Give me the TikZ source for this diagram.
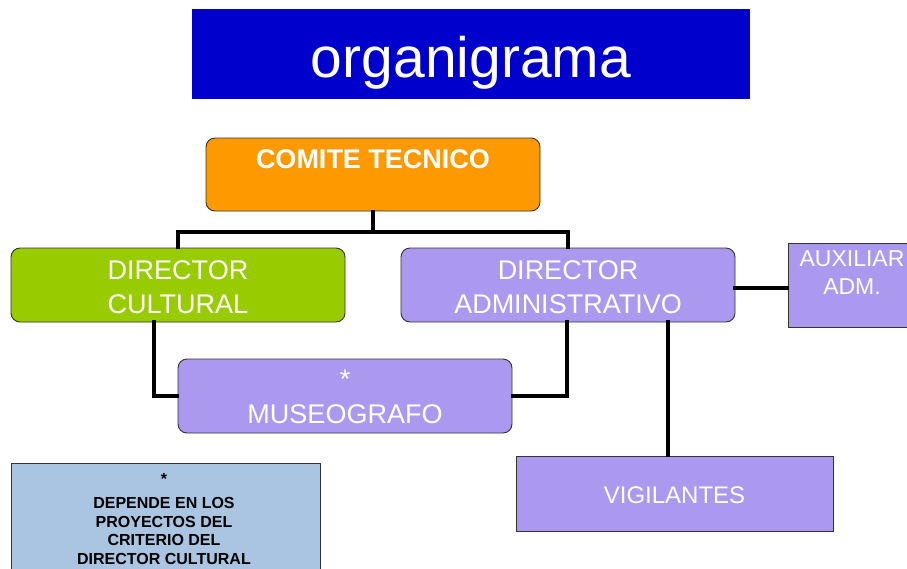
\documentclass[tikz,border=0pt]{standalone}
\usepackage{fontspec}
\setmainfont{Liberation Sans}
\definecolor{titleblue}{HTML}{0000CC}
\definecolor{orgorange}{HTML}{FF9900}
\definecolor{orggreen}{HTML}{99CC00}
\definecolor{orgpurple}{HTML}{AA99EE}
\definecolor{notebl}{HTML}{A9C5E1}
\tikzset{
  orgbox/.style={draw=black!80, line width=0.9pt, inner sep=0pt},
  rbox/.style={orgbox, rounded corners=9pt},
  conn/.style={draw=black, line width=3.4pt, line cap=rect},
  wtxt/.style={text=white, inner sep=0pt, anchor=base},
  btxt/.style={text=black, inner sep=0pt, anchor=base, font=\fontsize{16}{18}\selectfont\bfseries},
}
\begin{document}
\begin{tikzpicture}[x=1pt,y=-1pt]
\useasboundingbox (0,0) rectangle (907,568);
% title
\node[fill=titleblue, minimum width=558pt, minimum height=90pt, inner sep=0pt] (title) at (471,54) {};
\node[wtxt, font=\fontsize{57}{60}\selectfont] (titletxt) at (471,77) {organigrama};
% connector coordinates
\coordinate (j) at (373,232);
\coordinate (dcb) at (154,322);
\coordinate (dab) at (567,322);
\coordinate (dvb) at (668,322);
\coordinate (dar) at (735,288);
% boxes
\node[rbox, fill=orgorange, minimum width=334pt, minimum height=73pt] (ct) at (373,174.5) {};
\node[rbox, fill=orggreen, minimum width=334pt, minimum height=74pt] (dc) at (178,285) {};
\node[rbox, fill=orgpurple, minimum width=334pt, minimum height=74pt] (da) at (568,285) {};
\node[orgbox, fill=orgpurple, minimum width=128pt, minimum height=84pt] (au) at (852,285) {};
\node[rbox, fill=orgpurple, minimum width=334pt, minimum height=74pt] (mu) at (345,396) {};
\node[orgbox, fill=orgpurple, minimum width=317pt, minimum height=75pt] (vi) at (674.5,493.5) {};
\node[orgbox, fill=notebl, minimum width=309pt, minimum height=130pt] (note) at (166,528) {};
% connectors
\draw[conn] (ct.south) -- (j);
\draw[conn] (dc.north) |- (j) -| (da.north);
\draw[conn] (dcb) |- (mu.west);
\draw[conn] (dab) |- (mu.east);
\draw[conn] (dvb) -- (dvb |- vi.north);
\draw[conn] (dar) -- (dar -| au.west);
% texts
\node[wtxt, font=\fontsize{27}{30}\selectfont\bfseries] (cttxt) at (373,168) {COMITE TECNICO};
\node[wtxt, font=\fontsize{27}{30}\selectfont] (dc1) at (178,279) {DIRECTOR};
\node[wtxt, font=\fontsize{27}{30}\selectfont] (dc2) at (178,313) {CULTURAL};
\node[wtxt, font=\fontsize{27}{30}\selectfont] (da1) at (568,279) {DIRECTOR};
\node[wtxt, font=\fontsize{27}{30}\selectfont] (da2) at (568,313) {ADMINISTRATIVO};
\node[wtxt, font=\fontsize{23}{26}\selectfont] (au1) at (852,266) {AUXILIAR};
\node[wtxt, font=\fontsize{23}{26}\selectfont] (au2) at (852,294) {ADM.};
\node[wtxt, font=\fontsize{27}{30}\selectfont] (mu1) at (345,388) {*};
\node[wtxt, font=\fontsize{27}{30}\selectfont] (mu2) at (345,423) {MUSEOGRAFO};
\node[wtxt, font=\fontsize{24}{28}\selectfont] (vi1) at (674.5,503) {VIGILANTES};
\node[btxt] (n0) at (164,484) {*};
\node[btxt] (n1) at (164,508) {DEPENDE EN LOS};
\node[btxt] (n2) at (164,527) {PROYECTOS DEL};
\node[btxt] (n3) at (164,545.5) {CRITERIO DEL};
\node[btxt] (n4) at (164,564) {DIRECTOR CULTURAL};
\end{tikzpicture}
\end{document}
